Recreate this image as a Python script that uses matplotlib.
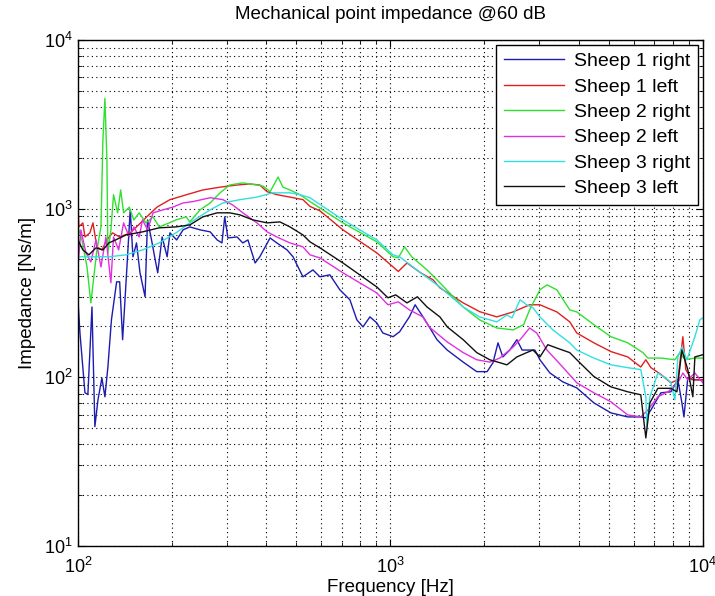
import matplotlib
matplotlib.use("Agg")
import matplotlib.pyplot as plt
from matplotlib.ticker import LogLocator, NullFormatter

plt.rcParams['font.family'] = ['Liberation Sans', 'DejaVu Sans']
plt.rcParams['mathtext.fontset'] = 'custom'
plt.rcParams['mathtext.rm'] = 'Liberation Sans'

# Sheep 1 right (blue)
s1r_f = [100, 101.5, 105.3, 107.6, 110.9, 113.3, 115.9, 119.3, 122, 124.7, 128, 133, 136, 139,
         143.5, 147, 150, 154, 158, 164, 167, 172, 176, 180, 186, 193, 197, 207, 217, 228, 246,
         265, 279, 289, 295, 302, 323, 337, 350, 369, 382, 412, 433, 467, 488, 525, 565, 595,
         640, 689, 742, 781, 817, 860, 905, 946, 1020, 1070, 1150, 1200, 1290, 1410, 1520, 1710,
         1890, 2040, 2130, 2210, 2290, 2410, 2540, 2640, 2900, 3010, 3240, 3560, 3950, 4480,
         5080, 5750, 6330, 6570, 6820, 7340, 7900, 8320, 8570, 8700, 8950, 9430, 10000]
s1r_z = [288, 183, 81, 79, 261, 51, 73.5, 99, 76.6, 115, 219, 368, 368, 167,
         451, 983, 518, 626, 416, 300, 857, 652, 518, 416, 679, 518, 718, 652, 748, 779, 748,
         728, 652, 626, 893, 670, 679, 626, 652, 476, 518, 670, 626, 569, 518, 394, 433, 394,
         405, 330, 288, 219, 199, 228, 210, 183, 174, 186, 228, 269, 219, 167, 145, 123,
         108, 108, 122, 160, 132, 145, 167, 145, 145, 127, 106, 94, 86.5, 70.5,
         61.5, 58.2, 58.2, 57.5, 64, 80.9, 82, 96.6, 70.5, 58.2, 99, 96.6, 96.6]

# Sheep 1 left (red)
s1l_f = [100, 100.7, 103.7, 105.3, 109.2, 111.7, 115, 119.3, 123.8, 129, 136, 147, 154, 166,
         179, 197, 223, 251, 285, 323, 355, 382, 403, 433, 477, 525, 553, 595, 705, 905, 1060,
         1130, 1250, 1370, 1440, 1710, 1930, 2190, 2470, 2790, 3010, 3410, 3750, 3950, 4480,
         5080, 5750, 6330, 6570, 6820, 7340, 7900, 8320, 8630, 8820, 9220, 10000]
s1l_z = [1130, 779, 823, 679, 718, 823, 593, 569, 652, 718, 679, 718, 779, 893,
         1020, 1130, 1210, 1290, 1340, 1380, 1400, 1380, 1260, 1210, 1170, 1130, 1030, 970, 748,
         546, 424, 476, 416, 378, 339, 276, 245, 228, 244, 269, 269, 244, 213, 183, 160,
         142, 132, 115, 127, 114, 104, 92.7, 96.6, 174, 111, 96.6, 96.6]

# Sheep 2 right (green)
s2r_f = [100, 103, 106.9, 110, 115, 118.5, 120.2, 122, 123.8, 124.7, 127.5, 130, 134, 137, 140,
         146, 151, 157, 165, 174, 182, 196, 206, 222, 228, 246, 265, 285, 306, 337, 374, 391,
         412, 427, 437, 453, 477, 513, 553, 705, 905, 1020, 1060, 1110, 1170, 1310, 1440, 1710,
         1930, 2190, 2470, 2670, 2790, 3010, 3170, 3410, 3750, 3950, 4480, 5080, 5750, 6430,
         6670, 7340, 8140, 8440, 8760, 9430, 10000]
s2r_z = [779, 652, 451, 276, 569, 779, 2550, 4500, 1940, 546, 748, 1210, 944, 1290, 944,
         1020, 857, 944, 823, 893, 779, 823, 857, 893, 834, 983, 1080, 1240, 1380, 1420, 1380, 1360,
         1260, 1420, 1540, 1340, 1290, 1210, 1100, 823, 635, 518, 511, 593, 518, 433, 363, 261,
         219, 196, 191, 205, 251, 330, 353, 330, 251, 244, 205, 174, 160, 140,
         130, 130, 127, 140, 127, 130, 130]

# Sheep 2 left (magenta)
s2l_f = [100, 102.2, 106.1, 110, 114.2, 118.5, 122.9, 127.5, 130, 135, 140, 146, 151, 157, 161,
         167, 174, 187, 201, 217, 233, 265, 291, 313, 337, 374, 403, 433, 477, 525, 553, 595,
         705, 905, 982, 1060, 1150, 1270, 1330, 1520, 1710, 1890, 2080, 2240, 2470, 2600, 2790,
         2940, 3170, 3560, 3950, 4480, 5080, 5750, 6330, 6670, 7180, 7730, 8320, 8630, 8950,
         9430, 10000]
s2l_z = [451, 748, 546, 483, 652, 451, 679, 363, 679, 569, 823, 679, 779, 679, 857,
         748, 944, 983, 1020, 1080, 1100, 1160, 1130, 1050, 944, 823, 728, 679, 626, 593, 532, 510,
         416, 316, 269, 280, 251, 228, 199, 162, 140, 127, 123, 130, 151, 167, 196,
         183, 145, 115, 92.7, 80.9, 71.5, 59.8, 58.2, 64, 76.6, 82, 92.7, 106, 96.6,
         106, 92.7]

# Sheep 3 right (cyan)
s3r_f = [100, 111.7, 125.6, 142.5, 161, 182, 206, 228, 265, 291, 330, 374, 420, 477, 513, 553,
         705, 905, 1020, 1070, 1250, 1440, 1710, 1930, 2190, 2360, 2450, 2600, 2730, 2860, 3010,
         3310, 3750, 3950, 4480, 5080, 5750, 6330, 6570, 6620, 6770, 7180, 7730, 7900, 8140,
         8320, 8570, 8890, 9430, 9780, 10000]
s3r_z = [518, 518, 518, 532, 569, 626, 718, 823, 983, 1080, 1130, 1170, 1240, 1240, 1210, 1160,
         857, 652, 532, 518, 416, 343, 261, 228, 213, 234, 225, 288, 269, 258, 228,
         191, 160, 145, 130, 118.5, 114, 111, 76.6, 50.8, 76.6, 106, 96.6, 92.7, 73.5,
         132, 151, 127, 174, 219, 225]

# Sheep 3 left (black)
s3l_f = [100, 103.7, 108.4, 114.2, 120.2, 125.6, 132, 142.5, 161, 182, 206, 228, 251, 279, 306,
         330, 363, 403, 443, 477, 525, 553, 595, 705, 905, 982, 1040, 1130, 1220, 1310, 1440,
         1520, 1710, 1890, 2080, 2240, 2360, 2540, 2730, 2860, 3010, 3190, 3410, 3750, 3950,
         4480, 5080, 5750, 6330, 6570, 6770, 7180, 7900, 8260, 8570, 8950, 9290, 9430, 10000]
s3l_z = [652, 569, 532, 585, 569, 626, 652, 698, 728, 769, 779, 800, 893, 944, 944,
         918, 857, 823, 834, 779, 698, 635, 585, 476, 343, 296, 308, 276, 300, 261, 228,
         199, 167, 140, 127, 122, 118.5, 132, 140, 145, 132, 156, 149, 140, 127,
         101, 87.7, 82, 78.7, 43.7, 70.5, 86, 86, 82, 145, 111, 76.6, 132, 136]

series = [
    (s1r_f, s1r_z, '#1c1cb0', 'Sheep 1 right'),
    (s1l_f, s1l_z, '#e02020', 'Sheep 1 left'),
    (s2r_f, s2r_z, '#30e030', 'Sheep 2 right'),
    (s2l_f, s2l_z, '#e030e0', 'Sheep 2 left'),
    (s3r_f, s3r_z, '#30e0e0', 'Sheep 3 right'),
    (s3l_f, s3l_z, '#111111', 'Sheep 3 left'),
]

fig = plt.figure(figsize=(7.15, 5.96), dpi=100)
ax = fig.add_axes([0.109, 0.084, 0.874, 0.849])

for f, z, c, lab in series:
    ax.loglog(f, z, color=c, lw=1.0, label=lab)

ax.set_xlim(100, 10000)
ax.set_ylim(10, 10000)
ax.xaxis.set_minor_locator(LogLocator(base=10, subs=range(2, 10)))
ax.yaxis.set_minor_locator(LogLocator(base=10, subs=range(2, 10)))
ax.xaxis.set_minor_formatter(NullFormatter())
ax.yaxis.set_minor_formatter(NullFormatter())
ax.grid(True, which='both', color='black', linestyle=(0, (1, 3)), linewidth=0.8)
ax.tick_params(which='both', direction='in', top=True, right=True, labelsize=13)
ax.tick_params(which='major', length=5)
ax.tick_params(which='minor', length=3)
ax.tick_params(axis='x', pad=8)
for s in ax.spines.values():
    s.set_linewidth(1.0)

ax.set_title('Mechanical point impedance @60 dB', fontsize=13.5, pad=15)
ax.set_xlabel('Frequency [Hz]', fontsize=13.5, labelpad=1)
ax.set_ylabel('Impedance [Ns/m]', fontsize=13.5, labelpad=6)

leg = ax.legend(loc='upper right', fontsize=14, fancybox=False, framealpha=1,
                edgecolor='black', borderaxespad=0.25, handlelength=3.1,
                labelspacing=0.4, handletextpad=0.5)
leg.get_frame().set_linewidth(1.0)

fig.savefig('out.png', dpi=100)
